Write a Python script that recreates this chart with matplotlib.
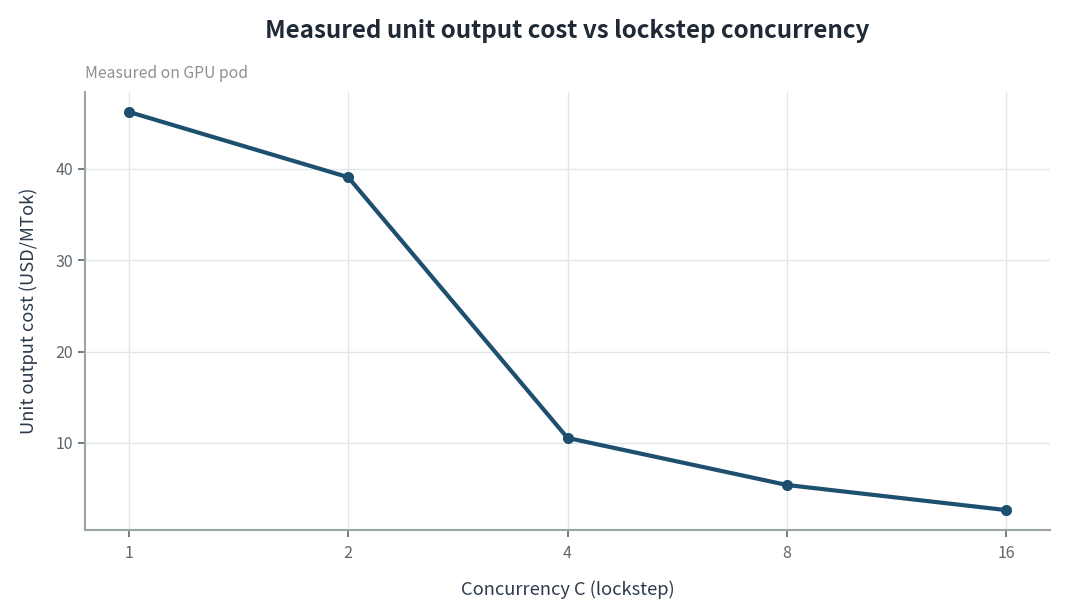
import numpy as np
import matplotlib
matplotlib.use("Agg")
import matplotlib.pyplot as plt

# data
concurrency = [1, 2, 4, 8, 16]
cost_usd_per_mtok = [46.25, 39.1, 10.55, 5.4, 2.65]

plt.rcParams['font.family'] = ['Noto Sans CJK KR', 'DejaVu Sans']

fig = plt.figure(figsize=(10.65, 6.15), dpi=100)
ax = fig.add_axes([0.0798, 0.1382, 0.9062, 0.7122])

x = np.log2(concurrency)
ax.plot(x, cost_usd_per_mtok, color="#1d4f6e", lw=3, marker="o", ms=7, zorder=3)

ax.set_xticks(x)
ax.set_xticklabels([str(c) for c in concurrency])
ax.set_yticks([10, 20, 30, 40])

ax.grid(True, color="#e3e6e9", lw=1)
ax.set_axisbelow(True)
for s in ("top", "right"):
    ax.spines[s].set_visible(False)
for s in ("left", "bottom"):
    ax.spines[s].set_color("#9ba5a6")
    ax.spines[s].set_linewidth(1.5)
ax.tick_params(colors="#5c6670", labelsize=11.5, length=5, width=1.2)
ax.tick_params(axis="x", pad=6)

ax.set_xlabel("Concurrency C (lockstep)", fontsize=13.2, color="#2c3a4b", labelpad=13)
ax.set_ylabel("Unit output cost (USD/MTok)", fontsize=13.2, color="#2c3a4b", labelpad=13)

fig.text(0.5325, 0.949, "Measured unit output cost vs lockstep concurrency",
         ha="center", va="center", fontsize=17.4, fontweight="bold", color="#1f2a36")
ax.text(0, 1.022, "Measured on GPU pod", transform=ax.transAxes,
        ha="left", va="bottom", fontsize=11.3, color="#8a9196")

fig.savefig("out.png", dpi=100)
